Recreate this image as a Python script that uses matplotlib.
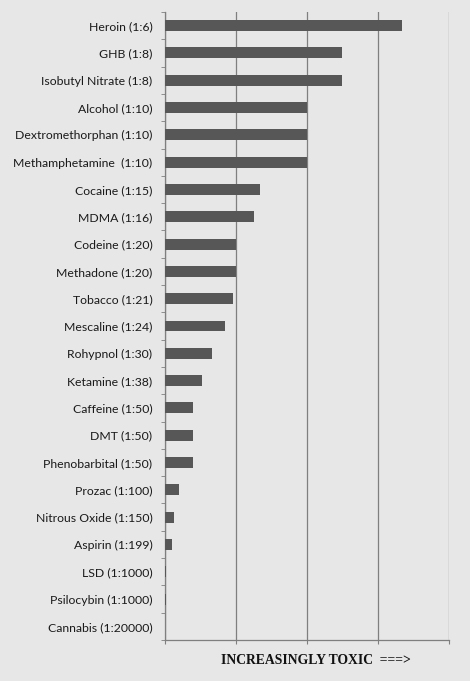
import matplotlib.pyplot as plt
from matplotlib.ticker import FixedLocator, NullFormatter

drugs = [
    "Heroin (1:6)", "GHB (1:8)", "Isobutyl Nitrate (1:8)", "Alcohol (1:10)",
    "Dextromethorphan (1:10)", "Methamphetamine  (1:10)", "Cocaine (1:15)",
    "MDMA (1:16)", "Codeine (1:20)", "Methadone (1:20)", "Tobacco (1:21)",
    "Mescaline (1:24)", "Rohypnol (1:30)", "Ketamine (1:38)", "Caffeine (1:50)",
    "DMT (1:50)", "Phenobarbital (1:50)", "Prozac (1:100)", "Nitrous Oxide (1:150)",
    "Aspirin (1:199)", "LSD (1:1000)", "Psilocybin (1:1000)", "Cannabis (1:20000)",
]
toxicity = [
    16.7, 12.5, 12.5, 10.0, 10.0, 10.0, 6.7, 6.25, 5.0, 5.0, 4.8, 4.2,
    3.3, 2.6, 2.0, 2.0, 2.0, 1.0, 0.67, 0.5, 0.05, 0.05, 0.01,
]
grid_values = [5, 10, 15, 20]
x_label = "INCREASINGLY TOXIC  ===>"

bg = "#e7e7e7"
line_color = "#7f7f7f"

fig = plt.figure(figsize=(4.7, 6.81), dpi=100, facecolor=bg)
ax = fig.add_axes([0.351, 0.0602, 0.604, 0.9222], facecolor=bg)

positions = list(range(len(drugs)))
ax.barh(positions, toxicity, height=0.4, color="#575757", zorder=3)

ax.set_xlim(0, 20)
ax.set_ylim(len(drugs) - 0.5, -0.5)
ax.set_xticks(grid_values + [0])
ax.xaxis.set_major_formatter(NullFormatter())
ax.grid(axis="x", color=line_color, linewidth=0.9, zorder=1)
ax.tick_params(axis="x", length=3, color=line_color, direction="out")

ax.set_yticks(positions)
ax.set_yticklabels(drugs, fontsize=8.8, family="Lato", color="#1a1a1a")
ax.yaxis.set_minor_locator(FixedLocator([p - 0.5 for p in positions] + [len(drugs) - 0.5]))
ax.tick_params(axis="y", which="major", length=0, pad=9)
ax.tick_params(axis="y", which="minor", length=3, color=line_color)

for side in ["top", "right"]:
    ax.spines[side].set_visible(False)
for side in ["left", "bottom"]:
    ax.spines[side].set_color(line_color)
    ax.spines[side].set_linewidth(0.9)

ax.set_xlabel(x_label, fontsize=9.8, family="Liberation Serif", fontweight="bold",
              color="#111111")
ax.xaxis.set_label_coords(0.53, -0.023)

fig.savefig("out.png", dpi=100, facecolor=bg)
